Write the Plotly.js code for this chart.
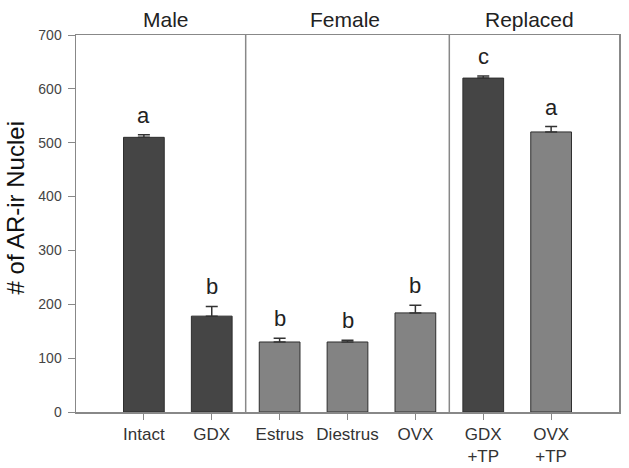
<!DOCTYPE html>
<html>
<head>
<meta charset="utf-8">
<script src="https://cdn.plot.ly/plotly-3.0.1.min.js"></script>
<style>html,body{margin:0;padding:0;background:#fff;}#chart{width:629px;height:468px;}</style>
</head>
<body>
<div id="chart"></div>
<script>
// Data
const categories = ["Intact", "GDX", "Estrus", "Diestrus", "OVX", "GDX<br>+TP", "OVX<br>+TP"];
const values = [510, 178, 130, 130, 184, 620, 520];
const errors = [5, 18, 7, 3, 14, 4, 10];
const letters = ["a", "b", "b", "b", "b", "c", "a"];
const barColors = ["#454545", "#454545", "#838383", "#838383", "#838383", "#454545", "#838383"];
const groupNames = ["Male", "Female", "Replaced"];
const groupCenters = [1.32, 3.96, 6.68];
const separators = [2.5, 5.5];
const yTicks = [0, 100, 200, 300, 400, 500, 600, 700];

const xPos = categories.map((c, i) => i + 1);
const FONT = "Liberation Sans, Arial, sans-serif";

const trace = {
  type: "bar",
  x: xPos,
  y: values,
  width: 0.6,
  marker: {color: barColors, line: {color: "#2e2e2e", width: 1}},
  error_y: {type: "data", array: errors, arrayminus: errors.map(() => 0), symmetric: false,
            color: "#333333", thickness: 1.5, width: 6},
  hoverinfo: "none"
};

const annotations = [];
letters.forEach((l, i) => {
  annotations.push({x: xPos[i], y: values[i] + errors[i], xref: "x", yref: "y", text: l,
    showarrow: false, yanchor: "bottom", yshift: 5,
    font: {family: FONT, size: 22, color: "#222"}});
});
groupNames.forEach((g, i) => {
  annotations.push({x: groupCenters[i], y: 1, xref: "x", yref: "paper", text: g,
    showarrow: false, yanchor: "bottom", yshift: 2,
    font: {family: FONT, size: 21, color: "#222"}});
});
annotations.push({x: 0, xref: "paper", xanchor: "center", xshift: -61, y: 0.54, yref: "paper",
  yanchor: "middle", text: "# of AR-ir Nuclei", textangle: -90, showarrow: false,
  font: {family: FONT, size: 24, color: "#111"}});

const shapes = separators.map(s => ({type: "line", xref: "x", yref: "paper", x0: s, x1: s, y0: 0, y1: 1,
  line: {color: "#888", width: 1.5}}));

const layout = {
  width: 629, height: 468,
  margin: {l: 76, r: 10, t: 35, b: 56},
  paper_bgcolor: "#fff", plot_bgcolor: "#fff",
  showlegend: false,
  font: {family: FONT, color: "#333"},
  xaxis: {range: [0, 8], tickvals: xPos, ticktext: categories, showgrid: false, zeroline: false,
          showline: true, mirror: true, linecolor: "#888", linewidth: 1.5,
          ticks: "outside", ticklen: 6, tickcolor: "#888", tickwidth: 1,
          tickfont: {size: 17, color: "#333"}, fixedrange: true},
  yaxis: {range: [0, 700], tickvals: yTicks, showgrid: false, zeroline: false,
          showline: true, mirror: true, linecolor: "#888", linewidth: 1.5,
          ticks: "outside", ticklen: 7, tickcolor: "#888", tickwidth: 1,
          ticklabelstandoff: 3,
          tickfont: {size: 14, color: "#444"}},
  annotations: annotations,
  shapes: shapes
};

Plotly.newPlot("chart", [trace], layout, {displayModeBar: false, staticPlot: true});
</script>
</body>
</html>
